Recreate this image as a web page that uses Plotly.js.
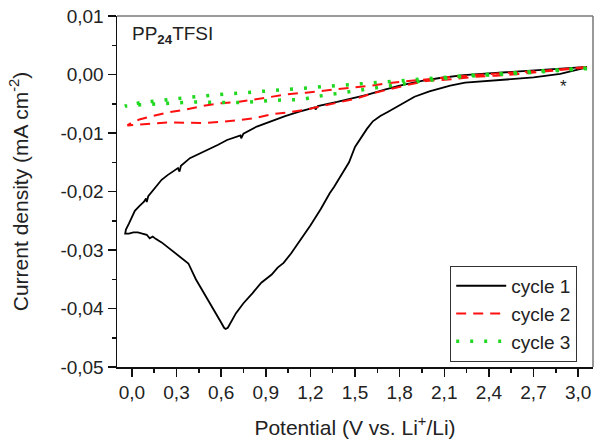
<!DOCTYPE html>
<html>
<head>
<meta charset="utf-8">
<script src="https://cdn.plot.ly/plotly-3.0.1.min.js"></script>
<style>html,body{margin:0;padding:0;background:#fff;}#chart{width:600px;height:446px;}</style>
</head>
<body>
<div id="chart"></div>
<script>
// Cycle 1 (black): cathodic scan 3.06 -> -0.045, then anodic back to 3.06
var cycle1X = [3.06,2.88,2.70,2.50,2.36,2.24,2.14,2.06,2.00,1.90,1.80,1.72,1.67,1.62,1.58,1.54,1.50,1.46,1.43,1.40,1.36,1.33,1.27,1.20,1.13,1.07,1.02,0.98,0.94,0.87,0.81,0.75,0.70,0.665,0.645,0.63,0.62,0.60,0.57,0.53,0.48,0.43,0.38,0.34,0.30,0.25,0.20,0.16,0.14,0.12,0.10,0.07,0.04,0.01,-0.02,-0.045,
  -0.04,-0.02,0.00,0.02,0.05,0.08,0.095,0.10,0.11,0.14,0.17,0.20,0.24,0.29,0.31,0.32,0.33,0.39,0.45,0.51,0.58,0.64,0.70,0.73,0.735,0.75,0.84,0.93,1.03,1.12,1.20,1.23,1.235,1.25,1.38,1.50,1.58,1.70,1.80,1.95,2.07,2.23,2.40,2.56,2.70,2.83,2.95,3.06];
var cycle1Y = [0.0012,0.0001,-0.0005,-0.0009,-0.0012,-0.0014,-0.0019,-0.0024,-0.0029,-0.0038,-0.0053,-0.0064,-0.0071,-0.0080,-0.0093,-0.0108,-0.0124,-0.0150,-0.0163,-0.0177,-0.0192,-0.0203,-0.0230,-0.0258,-0.0285,-0.0306,-0.0322,-0.0330,-0.0342,-0.0356,-0.0374,-0.0391,-0.0408,-0.0425,-0.0433,-0.0435,-0.0433,-0.0424,-0.0411,-0.0393,-0.0373,-0.0350,-0.0323,-0.0315,-0.0306,-0.0297,-0.0287,-0.0281,-0.0277,-0.0280,-0.0274,-0.0272,-0.0270,-0.0270,-0.0272,-0.0272,
  -0.0265,-0.0255,-0.0243,-0.0233,-0.0225,-0.0218,-0.0212,-0.0218,-0.0208,-0.0198,-0.0189,-0.0180,-0.0172,-0.0163,-0.0160,-0.0166,-0.0156,-0.0143,-0.0136,-0.0129,-0.0120,-0.0112,-0.0106,-0.0104,-0.0109,-0.0101,-0.0089,-0.0080,-0.0071,-0.0064,-0.0058,-0.0056,-0.0060,-0.0054,-0.0047,-0.0040,-0.0035,-0.0026,-0.0019,-0.0011,-0.0006,-0.0001,0.0002,0.0005,0.0007,0.0010,0.0011,0.0013];

// Cycle 2 (red dashed)
var cycle2X = [3.06,2.90,2.75,2.60,2.45,2.30,2.15,1.98,1.85,1.74,1.62,1.51,1.40,1.28,1.17,1.04,0.94,0.82,0.71,0.60,0.47,0.35,0.24,0.13,0.03,-0.02,-0.03,
  0.00,0.05,0.125,0.24,0.36,0.47,0.60,0.71,0.82,0.93,1.04,1.17,1.28,1.40,1.52,1.64,1.75,1.87,1.99,2.15,2.30,2.45,2.60,2.75,2.90,3.06];
var cycle2Y = [0.0012,0.0008,0.0004,0.0001,-0.0002,-0.0004,-0.0008,-0.0011,-0.0018,-0.0025,-0.0032,-0.0041,-0.0047,-0.0054,-0.0060,-0.0065,-0.0068,-0.0075,-0.0078,-0.0081,-0.0083,-0.0083,-0.0082,-0.0084,-0.0086,-0.0088,-0.0087,
  -0.0082,-0.0077,-0.0072,-0.0065,-0.0060,-0.0054,-0.0049,-0.0047,-0.0043,-0.0038,-0.0034,-0.0031,-0.0028,-0.0025,-0.0021,-0.0018,-0.0014,-0.0011,-0.0007,-0.0004,-0.0001,0.0002,0.0004,0.0006,0.0009,0.0013];

// Cycle 3 (green dotted)
var cycle3X = [3.06,2.90,2.75,2.60,2.45,2.30,2.15,2.05,1.95,1.85,1.75,1.65,1.55,1.45,1.34,1.23,1.14,0.96,0.84,0.74,0.64,0.54,0.44,0.34,0.24,0.14,0.04,-0.045,
  -0.04,0.06,0.16,0.26,0.36,0.46,0.56,0.66,0.76,0.87,0.96,1.06,1.17,1.27,1.37,1.47,1.58,1.67,1.80,1.95,2.10,2.30,2.50,2.70,2.90,3.06];
var cycle3Y = [0.0010,0.0007,0.0004,0.0002,0.0000,-0.0002,-0.0005,-0.0009,-0.0011,-0.0015,-0.0019,-0.0022,-0.0027,-0.0031,-0.0034,-0.0038,-0.0043,-0.0044,-0.0047,-0.0048,-0.0048,-0.0047,-0.0047,-0.0048,-0.0049,-0.0051,-0.0052,-0.0054,
  -0.0053,-0.0048,-0.0045,-0.0042,-0.0040,-0.0037,-0.0035,-0.0033,-0.0031,-0.0030,-0.0028,-0.0025,-0.0024,-0.0022,-0.0020,-0.0017,-0.0015,-0.0013,-0.0010,-0.0007,-0.0004,-0.0001,0.0002,0.0005,0.0008,0.0011];

var seriesNames = ["cycle 1", "cycle 2", "cycle 3"];
var xTickVals = [0.0,0.3,0.6,0.9,1.2,1.5,1.8,2.1,2.4,2.7,3.0];
var xTickText = ["0,0","0,3","0,6","0,9","1,2","1,5","1,8","2,1","2,4","2,7","3,0"];
var yTickVals = [0.01,0.00,-0.01,-0.02,-0.03,-0.04,-0.05];
var yTickText = ["0,01","0,00","-0,01","-0,02","-0,03","-0,04","-0,05"];

var FONT = "Arial, 'Liberation Sans', sans-serif";
var traces = [
  {x: cycle1X, y: cycle1Y, name: seriesNames[0], mode: "lines", line: {color: "#000000", width: 1.8}},
  {x: cycle2X, y: cycle2Y, name: seriesNames[1], mode: "lines", line: {color: "#ff1010", width: 2, dash: "10px,7px"}},
  {x: cycle3X, y: cycle3Y, name: seriesNames[2], mode: "lines", line: {color: "#20d820", width: 3.5, dash: "3px,11px"}}
];

var layout = {
  width: 600, height: 446,
  margin: {l: 117, r: 7, t: 16, b: 79},
  paper_bgcolor: "#ffffff", plot_bgcolor: "#ffffff",
  font: {family: FONT, size: 19, color: "#222222"},
  showlegend: true,
  legend: {x: 0.70, y: 0.288, xanchor: "left", yanchor: "top", bordercolor: "#333333", borderwidth: 1,
           bgcolor: "#ffffff", font: {family: FONT, size: 19, color: "#222222"}, itemwidth: 50, tracegroupgap: 0},
  xaxis: {
    range: [-0.1, 3.1], tickmode: "array", tickvals: xTickVals, ticktext: xTickText,
    ticks: "outside", ticklen: 8, tickwidth: 1.5, tickcolor: "#111",
    minor: {ticks: "outside", ticklen: 4, tickwidth: 1.5, tickcolor: "#111", tick0: 0, dtick: 0.15},
    showline: true, linecolor: "#111", linewidth: 1.5, showgrid: false, zeroline: false,
    tickfont: {family: FONT, size: 19, color: "#222"},
    title: {text: "Potential (V vs. Li<sup>+</sup>/Li)", font: {family: FONT, size: 21, color: "#222"}, standoff: 18}
  },
  yaxis: {
    range: [-0.05, 0.01], tickmode: "array", tickvals: yTickVals, ticktext: yTickText,
    ticks: "outside", ticklen: 8, tickwidth: 1.5, tickcolor: "#111",
    minor: {ticks: "outside", ticklen: 4, tickwidth: 1.5, tickcolor: "#111", tick0: 0, dtick: 0.005},
    showline: true, linecolor: "#111", linewidth: 1.5, showgrid: false, zeroline: false,
    tickfont: {family: FONT, size: 19, color: "#222"},
    title: {text: "Current density (mA cm<sup>-2</sup>)", font: {family: FONT, size: 21, color: "#222"}, standoff: 26}
  },
  shapes: [
    {type: "line", xref: "paper", yref: "paper", x0: 0, x1: 1, y0: 1, y1: 1, line: {color: "#777", width: 1.5}},
    {type: "line", xref: "paper", yref: "paper", x0: 1, x1: 1, y0: 0, y1: 1, line: {color: "#777", width: 1.5}}
  ],
  annotations: [
    {xref: "paper", yref: "paper", x: 0.028, y: 0.946, xanchor: "left", yanchor: "middle", showarrow: false,
     text: "PP<sub><b>24</b></sub>TFSI", font: {family: FONT, size: 19, color: "#222"}},
    {xref: "x", yref: "y", x: 2.90, y: -0.0020, xanchor: "center", yanchor: "middle", showarrow: false,
     text: "*", font: {family: FONT, size: 17, color: "#222"}}
  ]
};

Plotly.newPlot("chart", traces, layout, {staticPlot: true, displayModeBar: false});
</script>
</body>
</html>
